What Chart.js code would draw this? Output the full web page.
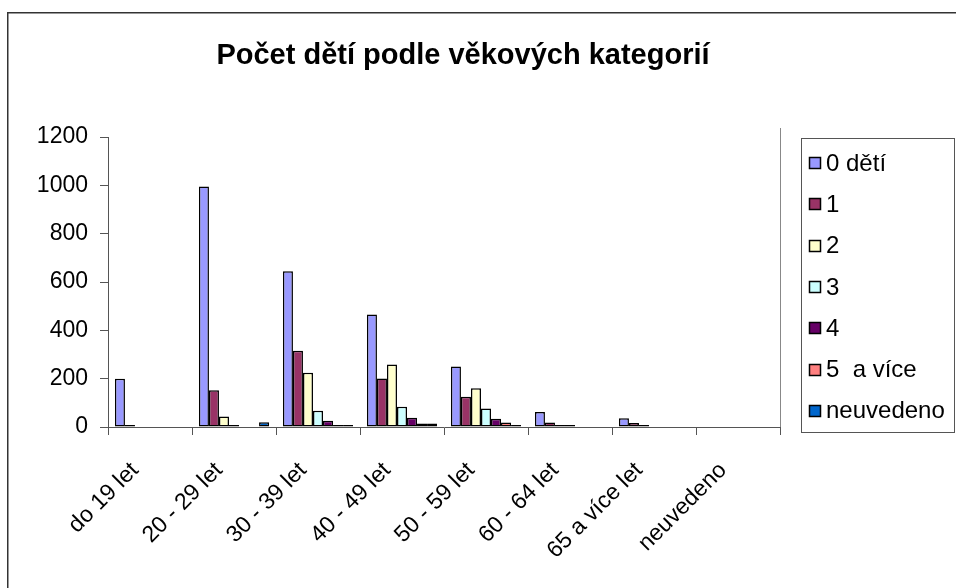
<!DOCTYPE html>
<html>
<head>
<meta charset="utf-8">
<script src="https://cdn.jsdelivr.net/npm/chart.js@4/dist/chart.umd.min.js"></script>
<style>
  body { margin: 0; background: #fff; }
  canvas { display: block; }
</style>
</head>
<body>
<canvas id="kidsChart" width="956" height="588"></canvas>
<script>
// --- Data ---
const chartTitle = 'Počet dětí podle věkových kategorií';
const ageGroups = ['do 19 let', '20 - 29 let', '30 - 39 let', '40 - 49 let', '50 - 59 let', '60 - 64 let', '65 a více let', 'neuvedeno'];
const seriesLabels = ['0 dětí', '1', '2', '3', '4', '5  a více', 'neuvedeno'];
const kids0 = [200, 995, 645, 466, 250, 62, 36, 0];
const kids1 = [8, 152, 316, 201, 125, 19, 17, 0];
const kids2 = [0, 43, 225, 259, 160, 8, 8, 0];
const kids3 = [0, 8, 67, 84, 77, 8, 0, 0];
const kids4 = [0, 0, 26, 38, 34, 0, 0, 0];
const kids5plus = [0, 0, 8, 15, 19, 0, 0, 0];
const kidsUnknown = [0, 20, 8, 15, 8, 0, 0, 0];
const yTicks = [0, 200, 400, 600, 800, 1000, 1200];

const seriesValues = [kids0, kids1, kids2, kids3, kids4, kids5plus, kidsUnknown];
const seriesColors = ['#9999FF', '#993366', '#FFFFCC', '#CCFFFF', '#660066', '#FF8080', '#0066CC'];

const FONT = 'Arial, "Liberation Sans", sans-serif';
const axisColor = '#555555';

// frame, title and legend box drawn by hand (Excel look)
const excelDecor = {
    id: 'excelDecor',
    beforeDraw(chart) {
        const ctx = chart.ctx;
        ctx.save();
        ctx.fillStyle = '#ffffff';
        ctx.fillRect(0, 0, chart.width, chart.height);
        ctx.strokeStyle = '#333333';
        ctx.lineWidth = 1.5;
        ctx.strokeRect(7.75, 12.75, chart.width + 20, chart.height + 20);
        ctx.restore();
    },
    afterDraw(chart) {
        const ctx = chart.ctx;
        const area = chart.chartArea;
        ctx.save();

        // right edge of plot
        ctx.strokeStyle = '#888888';
        ctx.lineWidth = 1;
        ctx.beginPath();
        ctx.moveTo(area.right + 0.5, 128);
        ctx.lineTo(area.right + 0.5, area.bottom);
        ctx.stroke();

        // title
        ctx.fillStyle = '#000';
        ctx.font = 'bold 29px ' + FONT;
        ctx.textAlign = 'center';
        ctx.textBaseline = 'alphabetic';
        ctx.fillText(chartTitle, 463, 64);

        // legend
        ctx.strokeStyle = '#555555';
        ctx.lineWidth = 1;
        ctx.strokeRect(801.5, 138.5, 153, 294);
        ctx.font = '24px ' + FONT;
        ctx.textAlign = 'left';
        ctx.textBaseline = 'middle';
        chart.data.datasets.forEach((ds, i) => {
            const y = 163 + i * 41.3;
            ctx.fillStyle = ds.backgroundColor;
            ctx.fillRect(809.5, Math.round(y - 6) + 0.5, 11, 11);
            ctx.strokeStyle = '#000';
            ctx.lineWidth = 1.5;
            ctx.strokeRect(809.5, Math.round(y - 6) + 0.5, 11, 11);
            ctx.fillStyle = '#000';
            ctx.fillText(ds.label, 826, y + 1);
        });
        ctx.restore();
    }
};

const ctx = document.getElementById('kidsChart').getContext('2d');
new Chart(ctx, {
    type: 'bar',
    data: {
        labels: ageGroups,
        datasets: seriesLabels.map((label, i) => ({
            label: label,
            data: seriesValues[i],
            backgroundColor: seriesColors[i],
            borderColor: '#000000',
            borderWidth: 1.5,
            borderSkipped: false,
            categoryPercentage: 0.835,
            barPercentage: 1
        }))
    },
    options: {
        responsive: false,
        animation: false,
        devicePixelRatio: 1,
        layout: { padding: { top: 137, right: 176, bottom: 0, left: 0 } },
        plugins: {
            legend: { display: false },
            title: { display: false },
            tooltip: { enabled: false }
        },
        scales: {
            x: {
                offset: true,
                grid: { display: true, drawOnChartArea: false, offset: true, tickLength: 8, color: axisColor },
                border: { color: axisColor, width: 1 },
                ticks: {
                    color: '#000',
                    font: { family: FONT, size: 23 },
                    maxRotation: 45,
                    minRotation: 45,
                    autoSkip: false,
                    padding: 22,
                    labelOffset: -15
                },
                afterFit(scale) { scale.height = 161; }
            },
            y: {
                min: 0,
                max: 1200,
                afterBuildTicks(scale) { scale.ticks = yTicks.map(v => ({ value: v })); },
                grid: { display: true, drawOnChartArea: false, tickLength: 8, color: axisColor },
                border: { color: axisColor, width: 1 },
                ticks: {
                    color: '#000',
                    font: { family: FONT, size: 23 },
                    padding: 12,
                    callback: (v) => String(v)
                },
                afterFit(scale) { scale.width = 108; }
            }
        }
    },
    plugins: [excelDecor]
});
</script>
</body>
</html>
